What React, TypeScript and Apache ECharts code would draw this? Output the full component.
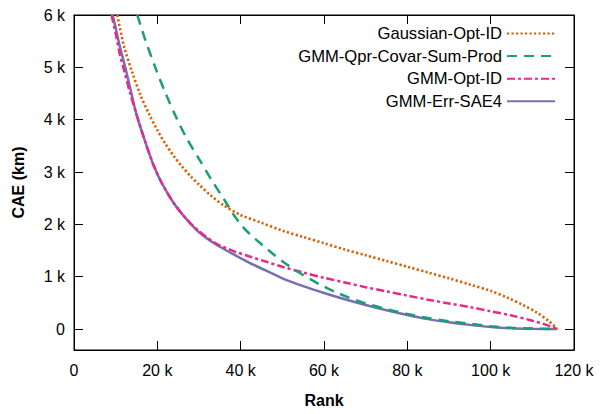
import React, { useEffect, useRef } from "react";
import * as echarts from "echarts";

const seriesNames = ["Gaussian-Opt-ID", "GMM-Qpr-Covar-Sum-Prod", "GMM-Opt-ID", "GMM-Err-SAE4"];
const seriesColors = ["#d95f02", "#1b9e77", "#e7298a", "#7570b3"];

// rank in thousands, CAE in km
const gaussianRank = [10.4, 12, 14, 16, 18, 20, 22, 24, 26, 28, 30, 33, 36, 40, 45, 50, 55, 60, 65, 70, 75, 80, 85, 90, 95, 100, 104, 108, 111, 114, 116];
const gaussianCae = [6000, 5400, 4900, 4460, 4110, 3800, 3530, 3300, 3100, 2920, 2760, 2540, 2360, 2180, 2030, 1880, 1760, 1640, 1520, 1410, 1300, 1190, 1080, 970, 850, 730, 600, 450, 320, 150, 0];

const qprRank = [15.2, 17, 19.5, 22, 24.5, 27, 30, 33, 36, 38, 40, 42, 45, 48, 51, 54, 57, 60, 63, 66, 70, 75, 80, 85, 90, 95, 100, 105, 110, 116];
const qprCae = [6000, 5550, 5000, 4500, 4050, 3650, 3250, 2850, 2480, 2220, 2000, 1830, 1620, 1420, 1240, 1080, 940, 810, 700, 600, 490, 380, 290, 210, 150, 100, 55, 25, 10, 0];

const optRank = [9.0, 10, 11, 12, 13.5, 15, 17, 19, 21, 24, 27, 30, 34, 38, 42, 46, 50, 55, 60, 65, 70, 75, 80, 85, 90, 95, 100, 105, 110, 113, 116];
const optCae = [6000, 5650, 5250, 4950, 4500, 4100, 3600, 3150, 2800, 2400, 2100, 1870, 1640, 1500, 1390, 1290, 1190, 1080, 980, 890, 800, 720, 640, 560, 490, 420, 340, 260, 160, 90, 0];

const errRank = [9.3, 10, 11, 12.3, 13.5, 15, 17, 19, 21, 24, 27, 30, 34, 38, 42, 46, 50, 55, 60, 65, 70, 75, 80, 85, 90, 95, 100, 105, 110, 116];
const errCae = [6000, 5750, 5400, 5000, 4600, 4100, 3600, 3150, 2800, 2400, 2100, 1850, 1620, 1440, 1270, 1120, 970, 820, 690, 570, 460, 360, 270, 190, 130, 80, 40, 15, 5, 0];

const xTicks = [0, 20000, 40000, 60000, 80000, 100000, 120000];
const yTicks = [0, 1000, 2000, 3000, 4000, 5000, 6000];

const dashes: any[] = [[2.2, 2.3], [10, 7], [8, 3, 3, 3], "solid"];

const FONT = "Liberation Sans, Arial, Helvetica, sans-serif";

function pairs(xs: number[], ys: number[]) {
  return xs.map((x, i) => [x * 1000, ys[i]]);
}

const fmt = (v: number) => (v === 0 ? "0" : `${v / 1000} k`);

export default function App() {
  const ref = useRef<HTMLDivElement>(null);
  useEffect(() => {
    if (!ref.current) return;
    const chart = echarts.init(ref.current, null, { renderer: "svg" });
    const data = [
      pairs(gaussianRank, gaussianCae),
      pairs(qprRank, qprCae),
      pairs(optRank, optCae),
      pairs(errRank, errCae),
    ];
    const tickStyle = { show: true, inside: true, length: 9, lineStyle: { color: "#000", width: 1 } };
    const lineAx = { show: true, onZero: false, lineStyle: { color: "#000" } };
    chart.setOption({
      animation: false,
      backgroundColor: "#fff",
      textStyle: { fontFamily: FONT },
      grid: { left: 74, right: 26, top: 15, bottom: 64, show: true, borderColor: "#000", borderWidth: 1, backgroundColor: "transparent" },
      legend: {
        orient: "vertical",
        right: 39,
        top: 20,
        align: "right",
        itemWidth: 48,
        itemHeight: 14,
        itemGap: 5.6,
        itemStyle: { opacity: 0, borderWidth: 0 },
        textStyle: { fontSize: 16.6, lineHeight: 15, color: "#000", fontFamily: FONT },
        data: seriesNames,
      },
      xAxis: [
        {
          type: "value",
          min: 0,
          max: 120000,
          interval: 20000,
          name: "Rank",
          nameLocation: "middle",
          nameGap: 42,
          nameTextStyle: { fontSize: 16, fontWeight: "bold", color: "#000" },
          axisLine: lineAx,
          axisTick: { ...tickStyle, customValues: xTicks },
          axisLabel: { fontSize: 16, color: "#000", margin: 12, customValues: xTicks, formatter: fmt },
          splitLine: { show: false },
        },
        {
          type: "value",
          position: "top",
          min: 0,
          max: 120000,
          interval: 20000,
          axisLine: lineAx,
          axisTick: { ...tickStyle, customValues: xTicks },
          axisLabel: { show: false },
          splitLine: { show: false },
        },
      ],
      yAxis: [
        {
          type: "value",
          min: -400,
          max: 6000,
          name: "CAE (km)",
          nameLocation: "middle",
          nameGap: 48,
          nameTextStyle: { fontSize: 16, fontWeight: "bold", color: "#000" },
          axisLine: lineAx,
          axisTick: { ...tickStyle, customValues: yTicks },
          axisLabel: { fontSize: 16, color: "#000", margin: 9, customValues: yTicks, formatter: fmt },
          splitLine: { show: false },
        },
        {
          type: "value",
          position: "right",
          min: -400,
          max: 6000,
          axisLine: lineAx,
          axisTick: { ...tickStyle, customValues: yTicks },
          axisLabel: { show: false },
          splitLine: { show: false },
        },
      ],
      series: seriesNames.map((name, i) => ({
        name,
        type: "line",
        data: data[i],
        smooth: 0.3,
        symbol: "none",
        showSymbol: false,
        clip: true,
        z: 10 - i,
        color: seriesColors[i],
        lineStyle: { color: seriesColors[i], width: i === 0 ? 2.6 : 2.5, type: dashes[i] },
      })),
    });
    return () => chart.dispose();
  }, []);
  return <div ref={ref} style={{ width: 600, height: 414, position: "absolute", left: 0, top: 0 }} />;
}
